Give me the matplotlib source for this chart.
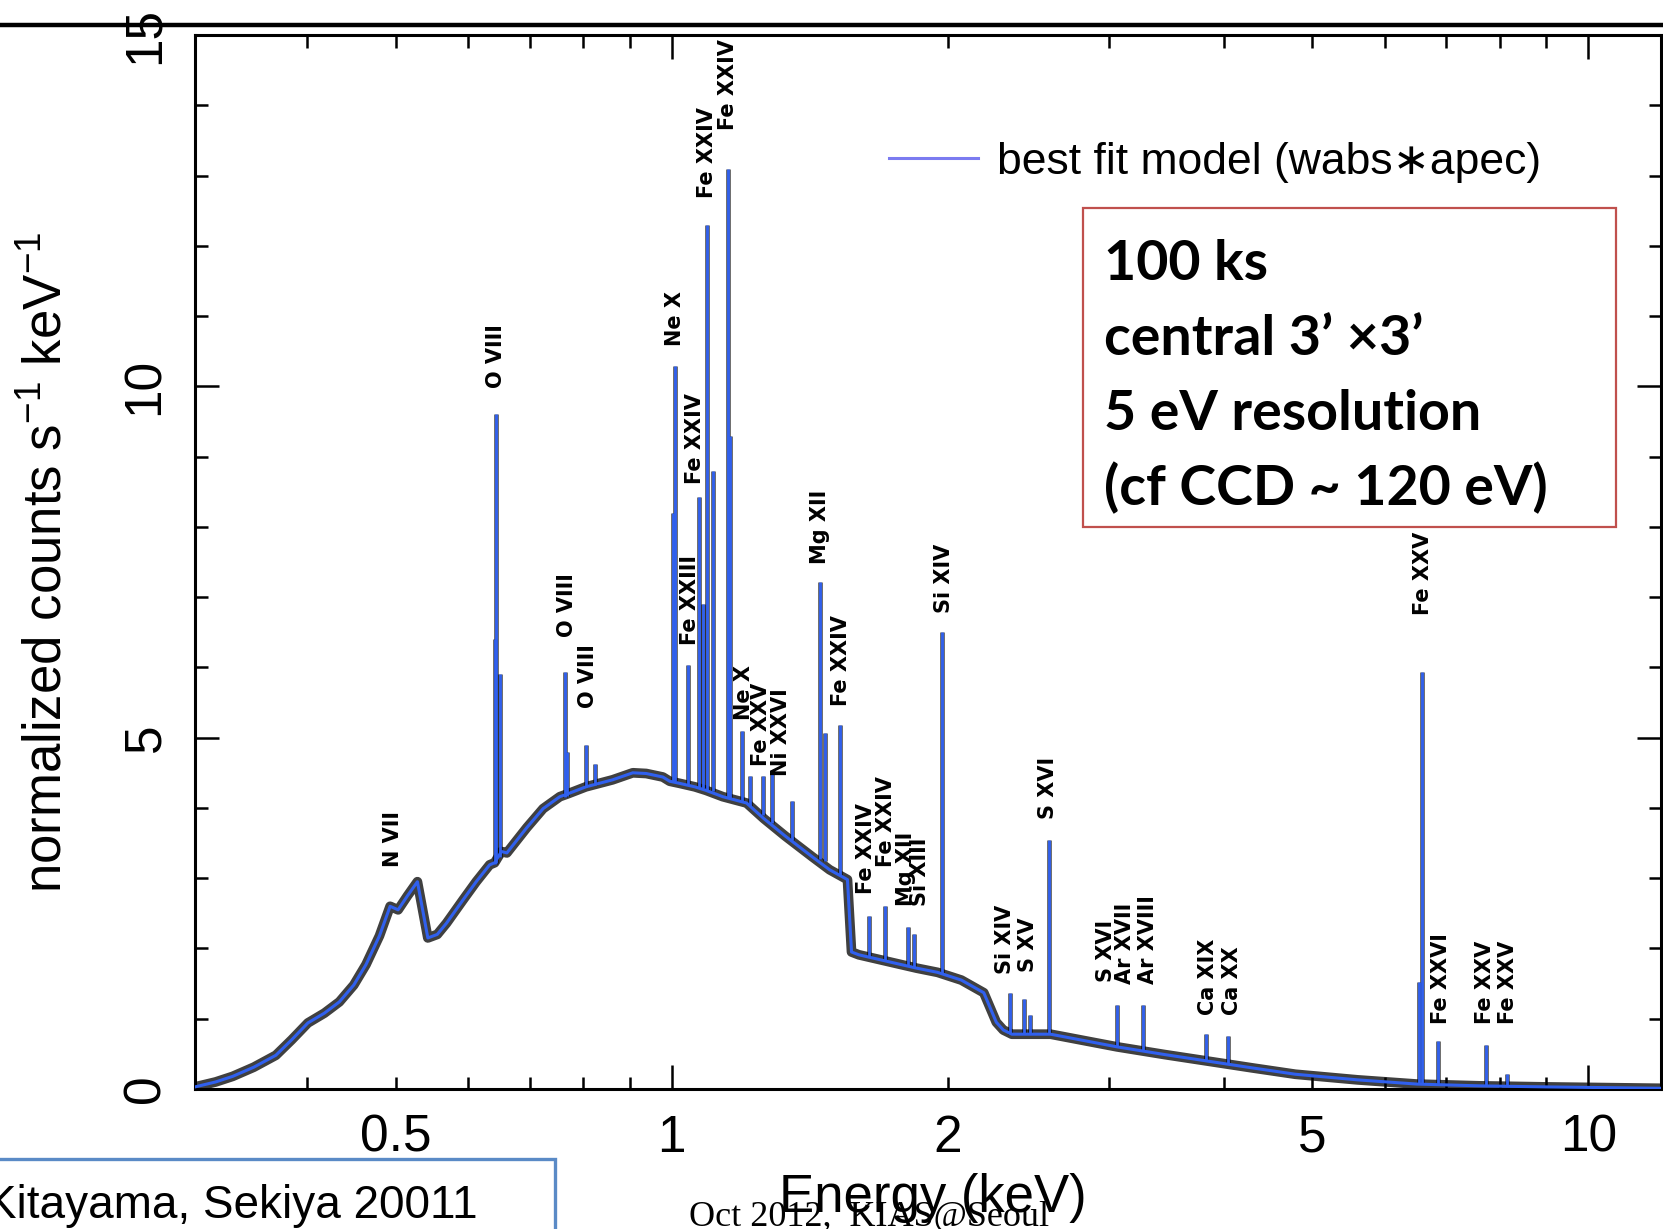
import matplotlib
matplotlib.use('Agg')
import matplotlib.pyplot as plt
from matplotlib.lines import Line2D
from matplotlib.patches import Rectangle

plt.rcParams['font.family'] = ['Liberation Sans', 'DejaVu Sans']
plt.rcParams['mathtext.fontset'] = 'custom'
plt.rcParams['mathtext.rm'] = 'Liberation Sans'
plt.rcParams['mathtext.it'] = 'Liberation Sans:italic'
plt.rcParams['mathtext.bf'] = 'Liberation Sans:bold'

# continuum of the best fit model (keV, normalized counts s^-1 keV^-1)
cont_energy = [0.302, 0.318, 0.332, 0.350, 0.370, 0.385, 0.401, 0.418, 0.434, 0.450,
               0.464, 0.480, 0.493, 0.503, 0.515, 0.528, 0.542, 0.555,
               0.568, 0.592, 0.612, 0.633, 0.641, 0.652, 0.661, 0.695, 0.724, 0.755, 0.770,
               0.806, 0.862, 0.907, 0.938, 0.978, 0.995, 1.02, 1.06, 1.09, 1.137,
               1.207, 1.26, 1.33, 1.425, 1.487, 1.555, 1.571, 1.60, 1.74, 1.85,
               1.95, 2.07, 2.19, 2.26, 2.30, 2.35, 2.59, 3.06, 3.45, 3.83, 4.30, 4.79,
               5.60, 6.5, 7.6, 8.97, 12.0]
cont_counts = [0.03, 0.10, 0.18, 0.31, 0.48, 0.70, 0.94, 1.08, 1.24, 1.48,
               1.77, 2.18, 2.60, 2.55, 2.75, 2.95, 2.15, 2.20,
               2.36, 2.69, 2.95, 3.19, 3.22, 3.38, 3.36, 3.72, 3.99, 4.16, 4.20,
               4.30, 4.40, 4.50, 4.49, 4.44, 4.38, 4.35, 4.30, 4.25, 4.16,
               4.07, 3.85, 3.60, 3.30, 3.12, 2.98, 1.95, 1.91, 1.80, 1.72,
               1.66, 1.55, 1.37, 0.95, 0.84, 0.78, 0.78, 0.60, 0.49, 0.40, 0.30, 0.21,
               0.13, 0.07, 0.045, 0.03, 0.01]

# emission lines: energy, model level under the line, peak
line_energy = [0.6412, 0.6437, 0.6495, 0.7645, 0.7684, 0.8059, 0.8243,
               1.0025, 1.0076, 1.0418, 1.0701, 1.0818, 1.0937, 1.1093, 1.1510, 1.1568,
               1.1944, 1.2162, 1.2566, 1.2853, 1.3516,
               1.4502, 1.4684, 1.5276, 1.6413, 1.7072, 1.8106, 1.8366, 1.9737,
               2.3409, 2.4204, 2.4619, 2.5810, 3.0567, 3.2696, 3.8312, 4.0456,
               6.5267, 6.5893, 6.8517, 7.7409, 8.1508]
line_base = [3.20, 3.22, 3.30, 4.16, 4.17, 4.30, 4.33,
             4.38, 4.38, 4.34, 4.30, 4.28, 4.26, 4.24, 4.15, 4.14,
             4.09, 4.03, 3.90, 3.78, 3.55,
             3.28, 3.24, 3.05, 1.88, 1.83, 1.76, 1.74, 1.65,
             0.78, 0.78, 0.78, 0.78, 0.60, 0.56, 0.40, 0.37,
             0.08, 0.08, 0.07, 0.05, 0.05]
line_peak = [6.40, 9.60, 5.90, 5.93, 4.80, 4.89, 4.62,
             8.20, 10.29, 6.04, 8.43, 6.90, 12.29, 8.80, 13.09, 9.30,
             5.09, 4.45, 4.45, 4.50, 4.10,
             7.21, 5.06, 5.18, 2.46, 2.61, 2.31, 2.21, 6.51,
             1.36, 1.28, 1.06, 3.54, 1.20, 1.20, 0.78, 0.75,
             1.52, 5.94, 0.68, 0.63, 0.21]

# line identifications: text, energy, level of the label foot
label_text = ['N VII', 'O VIII', 'O VIII', 'O VIII', 'Ne X', 'Fe XXIII', 'Fe XXIV',
              'Fe XXIV', 'Fe XXIV', 'Ne X', 'Fe XXV', 'Ni XXVI', 'Mg XII', 'Fe XXIV',
              'Fe XXIV', 'Fe XXIV', 'Mg XII', 'Si XIII', 'Si XIV', 'Si XIV', 'S XV',
              'S XVI', 'S XVI', 'Ar XVII', 'Ar XVIII', 'Ca XIX', 'Ca XX', 'Fe XXV',
              'Fe XXVI', 'Fe XXV', 'Fe XXV']
label_energy = [0.4962, 0.6437, 0.7679, 0.8099, 1.0076, 1.0462, 1.0595,
                1.0937, 1.1510, 1.1983, 1.2503, 1.3151, 1.4502, 1.5313,
                1.6277, 1.7115, 1.8031, 1.8677, 1.9801, 2.3100, 2.4486,
                2.5752, 2.9787, 3.1260, 3.3059, 3.8459, 4.0900, 6.6037,
                6.9054, 7.7214, 8.1697]
label_y = [3.16, 9.98, 6.43, 5.42, 10.57, 6.32, 8.61,
           12.68, 13.65, 5.25, 4.60, 4.45, 7.47, 5.45,
           2.78, 3.16, 2.60, 2.60, 6.77, 1.63, 1.66,
           3.84, 1.52, 1.49, 1.49, 1.05, 1.05, 6.75,
           0.93, 0.93, 0.93]

info_lines = ['100 ks', 'central 3\u2019 \u00d73\u2019', '5 eV resolution', '(cf CCD ~ 120 eV)']

W, H = 1663, 1229
fig = plt.figure(figsize=(W / 100, H / 100), dpi=100)
ax = fig.add_axes([195 / W, 1 - 1089 / H, 1466 / W, 1054 / H])

model_color = '#3060EE'

# observed data (black) under the model (blue)
ax.plot(cont_energy, cont_counts, color='black', lw=7, alpha=0.75, zorder=2,
        solid_capstyle='butt')
ax.vlines(line_energy, line_base, line_peak, color='black', lw=3.5, alpha=0.6, zorder=2)
ax.plot(cont_energy, cont_counts, color=model_color, lw=2.2, zorder=3)
ax.vlines(line_energy, line_base, line_peak, color=model_color, lw=2.0, zorder=3)

for txt, e, y in zip(label_text, label_energy, label_y):
    ax.text(e, y, txt, rotation=90, ha='center', va='bottom', fontsize=15,
            fontweight='bold', family='DejaVu Sans', zorder=4)

ax.set_xscale('log')
ax.set_xlim(0.302, 12.0)
ax.set_ylim(0, 15)
ax.set_xticks([1, 10], ['1', '10'])
minor_x = [0.4, 0.5, 0.6, 0.7, 0.8, 0.9, 2, 3, 4, 5, 6, 7, 8, 9]
minor_lab = ['', '0.5', '', '', '', '', '2', '', '', '5', '', '', '', '']
ax.set_xticks(minor_x, minor_lab, minor=True)
ax.set_yticks([0, 5, 10, 15])
ax.set_yticks(range(16), minor=True)
ax.tick_params(which='both', direction='in', top=True, right=True, width=1.8,
               labelsize=37, pad=18)
ax.tick_params(which='major', length=17)
ax.tick_params(which='minor', length=9)
for lab in ax.get_yticklabels():
    lab.set_rotation(90)
    lab.set_va('center')
for s in ax.spines.values():
    s.set_linewidth(2.2)

ax.set_xlabel('Energy (keV)', fontsize=38)
ax.xaxis.set_label_coords(0.5034, -0.0797)
ax.set_ylabel('normalized counts s$^{-1}$ keV$^{-1}$', fontsize=38)
ax.yaxis.set_label_coords(-0.0833, 0.5)

handle = Line2D([], [], color='#7b7bf0', lw=2.2)
ax.legend([handle], ['best fit model (wabs\u2217apec)'], loc='center left',
          bbox_to_anchor=(0.4734, 0.8795), frameon=False, fontsize=32,
          handlelength=2.0, handletextpad=0.43, borderpad=0, borderaxespad=0)

# slide decorations
fig.add_artist(Line2D([0, 1], [1 - 25 / H] * 2, color='black', lw=3.2))
fig.add_artist(Rectangle((1082.5 / W, 1 - 526.7 / H), 533.5 / W, 319 / H,
                         transform=fig.transFigure, fill=False,
                         edgecolor='#C0504D', lw=1.6))
for i, t in enumerate(info_lines):
    fig.text(1104 / W, 1 - (280 + 75 * i) / H, t, fontsize=40, fontweight='bold',
             family=['Lato', 'DejaVu Sans'], va='baseline', ha='left')

fig.add_artist(Rectangle((-10 / W, 1 - 1245 / H), 565 / W, 86 / H,
                         transform=fig.transFigure, fill=False,
                         edgecolor='#5A8AC6', lw=2.4, clip_on=False))
fig.text(478 / W, 1 - 1218 / H, 'Kitayama, Sekiya 20011', fontsize=33,
         ha='right', va='baseline')
fig.text(689 / W, 1 - 1226 / H, 'Oct 2012,  KIAS@Seoul', fontsize=26,
         family='Liberation Serif', ha='left', va='baseline')

fig.savefig('out.png', dpi=100)
